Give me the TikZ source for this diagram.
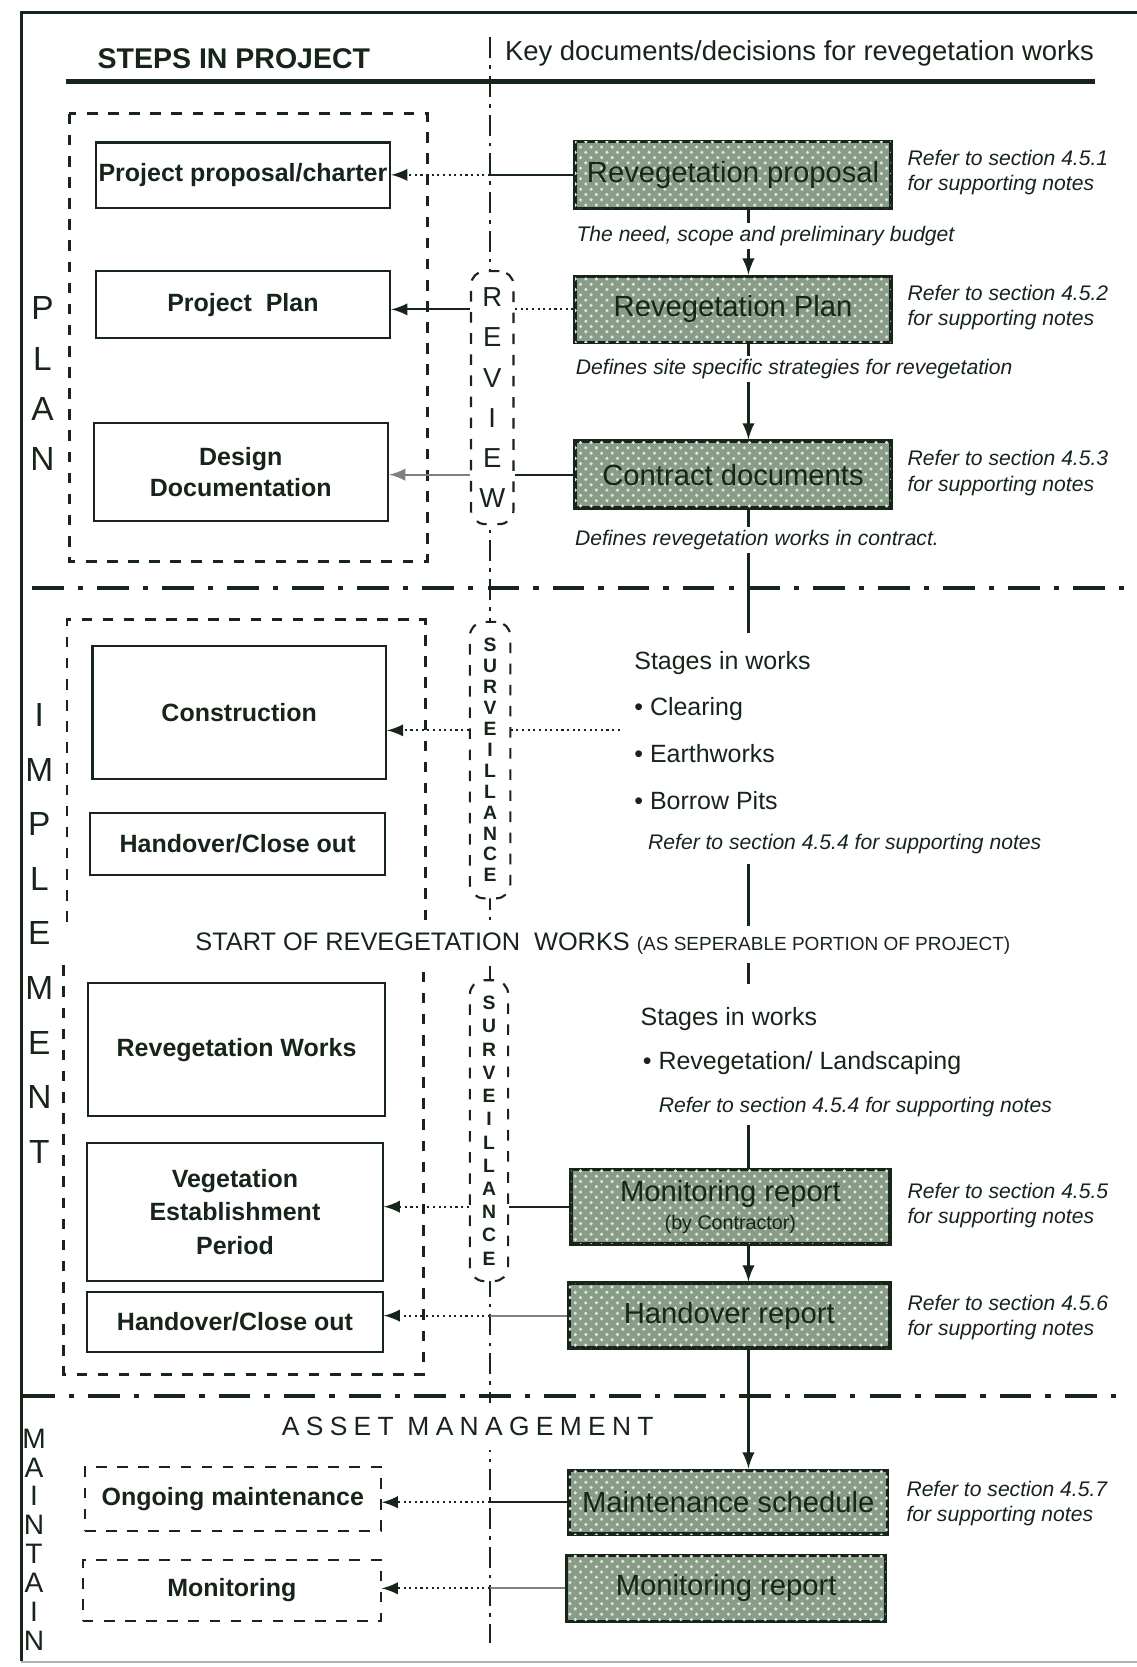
\documentclass[tikz,border=0pt]{standalone}
\usepackage{fontspec}
\setmainfont{Liberation Sans}
\usetikzlibrary{patterns}
\definecolor{ink}{RGB}{22,36,26}
\definecolor{docgreen}{RGB}{136,156,136}
\definecolor{docspeck}{RGB}{222,230,220}
\newcommand{\fs}[2]{\fontsize{#1}{#2}\selectfont}
\newcommand{\px}{0.010627cm}
\tikzset{
  span/.style 2 args={minimum width=#1*\px, minimum height=#2*\px},
  stepbox/.style={draw=ink, line width=.6pt, inner sep=0, align=center, font=\bfseries\fs{7.1}{8.7}},
  docbox/.style={draw=ink, line width=1pt, fill=docgreen, postaction={pattern=crosshatch dots, pattern color=docspeck}, inner sep=0, align=center, font=\fs{8.3}{9}},
  note/.style={anchor=west, align=left, inner sep=0, font=\itshape\fs{6}{7.2}},
  midnote/.style={fill=white, inner sep=1pt, font=\itshape\fs{6}{7.2}},
  stage/.style={anchor=base west, inner sep=0, font=\fs{7.1}{8}},
  sidebox/.style={draw=ink, dashed, rounded corners=4pt, fill=white, line width=.6pt, inner sep=0, align=center},
  phasebox/.style={draw=ink, dashed, line width=.8pt},
  divider/.style={ink, line width=1.2pt, dash pattern=on 9pt off 4pt on 1.5pt off 4pt},
  link/.style={ink, line width=.6pt},
  feed/.style={ink, densely dotted, line width=.6pt},
}
\begin{document}
\begin{tikzpicture}[x=0.010627cm, y=-0.010627cm, text=ink]
\useasboundingbox (0,0) rectangle (1069,1568);
% frame and header
\draw[ink, line width=.8pt] (20,1562) -- (20,12) -- (1069,12);
\draw[gray!60, line width=.5pt] (20,1563) -- (1069,1563);
\node[font=\bfseries\fs{8.1}{9}] (steps) at (220,55) {STEPS IN PROJECT};
\node[font=\fs{7.8}{9}] (keydocs) at (752,50) {Key documents/decisions for revegetation works};
\draw[ink, line width=1.4pt] (62,77) -- (1030,77);
\draw[ink, line width=.6pt, dash pattern=on 6pt off 2pt on 1pt off 2pt] (461,35) -- (461,1545);
\coordinate (midline) at (461,0);
\coordinate (spine) at (704,0);
% phase dividers
\draw[divider] (30,553) -- (1060,553);
\draw[divider] (22,1313) -- (1050,1313);
\draw[phasebox] (65,107) rectangle (402,528);
\draw[phasebox] (63,867) -- (63,583) -- (400,583) -- (400,867);
\draw[phasebox] (60,908) -- (60,1293) -- (398,1293) -- (398,908);
% steps in project
\node[stepbox, span={277}{62}] (charter) at (228.5,165) {Project proposal/charter};
\node[stepbox, span={277}{63}] (projplan) at (228.5,286.5) {Project\ \ Plan};
\node[stepbox, span={277}{92}] (designdoc) at (226.5,444) {Design\\Documentation};
\node[stepbox, span={276}{125}] (construction) at (225,670.5) {Construction};
\node[stepbox, span={277}{58}] (handover1) at (223.5,794) {Handover/Close out};
\node[stepbox, span={279}{125}] (revworks) at (222.5,987.5) {Revegetation Works};
\node[stepbox, span={278}{130}, font=\bfseries\fs{7.1}{9.6}] (vegest) at (221,1140) {Vegetation\\Establishment\\Period};
\node[stepbox, span={278}{57}] (handover2) at (221,1243.5) {Handover/Close out};
\node[stepbox, span={278}{60}, dashed] (ongoing) at (219,1410) {Ongoing maintenance};
\node[stepbox, span={280}{58}, dashed] (monitoring) at (218,1496) {Monitoring};
% key documents
\node[docbox, span={297}{63}] (revprop) at (689.5,164.5) {Revegetation proposal};
\node[docbox, span={297}{62}] (revplan) at (689.5,291) {Revegetation Plan};
\node[docbox, span={297}{63}] (contract) at (689.5,446.5) {Contract documents};
\node[docbox, span={300}{70}] (monrep) at (687,1135) {Monitoring report\\[-1pt]{\fs{5.6}{6}(by Contractor)}};
\node[docbox, span={302}{61}] (handrep) at (686,1237.5) {Handover report};
\node[docbox, span={300}{60}] (maint) at (685,1413) {Maintenance schedule};
\node[docbox, span={300}{62}] (monrep2) at (683,1494) {Monitoring report};
% review / surveillance
\node[sidebox, span={40}{238}, font=\fs{7.8}{11.4}] (review) at (463,374) {R\\E\\V\\I\\E\\W};
\node[sidebox, span={38}{260}, font=\bfseries\fs{5.5}{5.94}] (surv1) at (461,715) {S\\U\\R\\V\\E\\I\\L\\L\\A\\N\\C\\E};
\node[sidebox, span={36}{283}, font=\bfseries\fs{5.5}{6.6}] (surv2) at (460,1063.5) {S\\U\\R\\V\\E\\I\\L\\L\\A\\N\\C\\E};
% flow of documents
\draw[link, -latex] (revprop.south -| spine) -- (revplan.north -| spine);
\draw[link, -latex] (revplan.south -| spine) -- (contract.north -| spine);
\coordinate (cut1) at (704,595);
\coordinate (cut2) at (704,813);
\coordinate (cut3) at (704,926);
\coordinate (cut4) at (704,1058);
\node[fill=white, inner sep=2pt, font=\fs{7.2}{8}] (start) at (567,888) {START OF REVEGETATION\ \ WORKS {\fs{5.4}{6}(AS SEPERABLE PORTION OF PROJECT)}};
\draw[link] (contract.south -| spine) -- (cut1);
\draw[link] (cut2) -- (start.north -| spine);
\draw[link] (start.south -| spine) -- (cut3);
\draw[link] (cut4) -- (monrep.north -| spine);
\draw[link, -latex] (monrep.south -| spine) -- (handrep.north -| spine);
\draw[link, -latex] (handrep.south -| spine) -- (maint.north -| spine);
% documents feeding the steps
\draw[link] (revprop.west) -- (revprop.west -| midline);
\draw[feed, -latex] (revprop.west -| midline) -- (charter.east |- revprop.west);
\draw[feed] (revplan.west) -- (revplan.west -| review.east);
\draw[link, -latex] (revplan.west -| review.west) -- (projplan.east |- revplan.west);
\draw[link] (contract.west) -- (contract.west -| review.east);
\draw[link, gray, -latex] (contract.west -| review.west) -- (designdoc.east |- contract.west);
\coordinate (worksfeed) at (583,687);
\draw[feed] (worksfeed) -- (worksfeed -| surv1.east);
\draw[feed, -latex] (worksfeed -| surv1.west) -- (construction.east |- worksfeed);
\draw[link] (monrep.west) -- (monrep.west -| surv2.east);
\draw[feed, -latex] (monrep.west -| surv2.west) -- (vegest.east |- monrep.west);
\draw[link, gray] (handrep.west) -- (handrep.west -| midline);
\draw[feed, -latex] (handrep.west -| midline) -- (handover2.east |- handrep.west);
\draw[link] (maint.west) -- (maint.west -| midline);
\draw[feed, -latex] (maint.west -| midline) -- (ongoing.east |- maint.west);
\draw[link, gray] (monrep2.west) -- (monrep2.west -| midline);
\draw[feed, -latex] (monrep2.west -| midline) -- (monitoring.east |- monrep2.west);
% texts on the right
\node[midnote] (needtxt) at (720,222) {The need, scope and preliminary budget};
\node[midnote] (sitetxt) at (747,347) {Defines site specific strategies for revegetation};
\node[midnote] (contracttxt) at (712,508) {Defines revegetation works in contract.};
\node[note] (ref1) at (853,162) {Refer to section 4.5.1\\for supporting notes};
\node[note] (ref2) at (853,289) {Refer to section 4.5.2\\for supporting notes};
\node[note] (ref3) at (853,445) {Refer to section 4.5.3\\for supporting notes};
\node[note] (ref5) at (853,1134) {Refer to section 4.5.5\\for supporting notes};
\node[note] (ref6) at (853,1239) {Refer to section 4.5.6\\for supporting notes};
\node[note] (ref7) at (852,1414) {Refer to section 4.5.7\\for supporting notes};
\node[stage] (stagesA) at (596,630) {Stages in works};
\node[stage] (clearing) at (596,673) {\textbullet\ Clearing};
\node[stage] (earthworks) at (596,717) {\textbullet\ Earthworks};
\node[stage] (borrow) at (596,761) {\textbullet\ Borrow Pits};
\node[stage, font=\itshape\fs{6}{7}] (ref4a) at (609,799) {Refer to section 4.5.4 for supporting notes};
\node[stage] (stagesB) at (602,965) {Stages in works};
\node[stage] (landscaping) at (604,1006) {\textbullet\ Revegetation/ Landscaping};
\node[stage, font=\itshape\fs{6}{7}] (ref4b) at (619,1046) {Refer to section 4.5.4 for supporting notes};
\node[fill=white, inner xsep=2pt, inner ysep=4pt, font=\fs{7.5}{8}] (asset) at (440,1342) {\addfontfeatures{LetterSpace=24}ASSET MANAGEMENT};
% phase names
\node[align=center, inner sep=0, font=\fs{9.5}{14.3}] (plan) at (40,361) {P\\L\\A\\N};
\node[align=center, inner sep=0, font=\fs{9.5}{15.5}] (implement) at (37,878) {I\\M\\P\\L\\E\\M\\E\\N\\T};
\node[align=center, inner sep=0, font=\fs{8}{8.2}] (maintain) at (32,1448) {M\\A\\I\\N\\T\\A\\I\\N};
\end{tikzpicture}
\end{document}
